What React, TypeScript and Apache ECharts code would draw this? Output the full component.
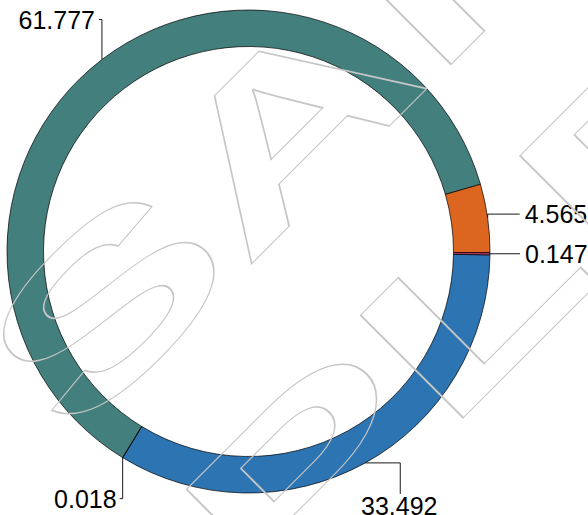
import React, { useEffect, useRef } from "react";
import * as echarts from "echarts";

// ---- data ----
const categories = ["Blue", "Tiny", "Teal", "Orange", "Crimson"];
const values = [33.492, 0.018, 61.777, 4.565, 0.147];
const valueLabels = ["33.492", "0.018", "61.777", "4.565", "0.147"];
const sliceColors = ["#2c74b2", "#8e6bb0", "#427f7d", "#dc661f", "#b8335f"];

// ---- label leader styling (first segment, second segment, text shift, align) ----
const leaderFirst = [[35, 0], [0, 41], [0, -40], [0, -4], [30, 0]];
const leaderSecond = [[0, 31], [-3, 0], [-3, 0], [32, 0], [0, 0]];
const textShift = [[-1, 12], [-3, 0], [-4, 0], [5, 0], [5, 0]];
const textAlign = ["center", "right", "right", "left", "left"];

const CX = 248.5;
const CY = 251.5;
const R_OUT = 241.5;
const R_IN = 205;
const START_ANGLE = -0.8;

export default function App() {
  const ref = useRef<HTMLDivElement>(null);
  useEffect(() => {
    if (!ref.current) return;
    const chart = echarts.init(ref.current, undefined, { renderer: "svg" });
    const total = values.reduce((a, b) => a + b, 0);
    const cum: number[] = [];
    let acc = 0;
    values.forEach((v) => {
      cum.push(acc);
      acc += v;
    });
    const anchor = (i: number) => {
      const th = (-START_ANGLE * Math.PI) / 180 + ((cum[i] + values[i] / 2) / total) * Math.PI * 2;
      return [CX + R_OUT * Math.cos(th), CY + R_OUT * Math.sin(th)];
    };
    const wmStyle = {
      text: "SAMPLE",
      font: 'bold 211px "Liberation Sans"',
      fill: "none",
      stroke: "#c6c6c6",
      lineWidth: 1.1,
      align: "left",
      verticalAlign: "middle",
    };
    const s = Math.SQRT1_2;
    const toScreen = (perp: number, down: number) => [s * (perp + down), s * (down - perp)];
    const l1 = toScreen(-264, 291.5);
    const l2 = toScreen(-1059, 550);
    chart.setOption({
      animation: false,
      backgroundColor: "#ffffff",
      series: [
        {
          type: "pie",
          center: [CX, CY],
          radius: [R_IN, R_OUT],
          startAngle: START_ANGLE,
          clockwise: true,
          avoidLabelOverlap: false,
          minShowLabelAngle: 0,
          data: values.map((v, i) => ({
            name: categories[i],
            value: v,
            itemStyle: { color: sliceColors[i] },
          })),
          itemStyle: { borderColor: "#000000", borderWidth: 0.7 },
          emphasis: { disabled: true },
          label: {
            show: true,
            position: "outside",
            overflow: "none",
            formatter: (p: any) => valueLabels[p.dataIndex],
            fontFamily: '"Liberation Sans", Arial, sans-serif',
            fontSize: 25,
            color: "#000000",
          },
          labelLine: {
            show: true,
            length: 2,
            length2: 2,
            lineStyle: { color: "#1a1a1a", width: 1 },
          },
          labelLayout: (params: any) => {
            const i = params.dataIndex;
            const p = anchor(i);
            const e = [p[0] + leaderFirst[i][0], p[1] + leaderFirst[i][1]];
            const f = [e[0] + leaderSecond[i][0], e[1] + leaderSecond[i][1]];
            return {
              x: f[0] + textShift[i][0],
              y: f[1] + textShift[i][1],
              align: textAlign[i],
              verticalAlign: "middle",
              labelLinePoints: [p, e, f],
            };
          },
        },
      ],
      graphic: [
        {
          type: "text",
          x: l1[0],
          y: l1[1],
          rotation: Math.PI / 4,
          scaleX: 1.75,
          z: 100,
          silent: true,
          style: wmStyle,
        },
        {
          type: "text",
          x: l2[0],
          y: l2[1],
          rotation: Math.PI / 4,
          scaleX: 1.75,
          z: 100,
          silent: true,
          style: wmStyle,
        },
      ],
    });
    return () => chart.dispose();
  }, []);
  return (
    <div
      ref={ref}
      style={{ position: "fixed", left: 0, top: 0, width: 588, height: 515 }}
    />
  );
}
